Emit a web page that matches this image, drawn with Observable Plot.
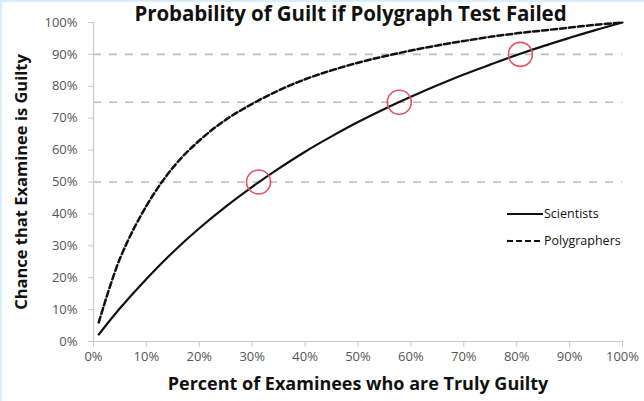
<!DOCTYPE html>
<html>
<head>
<meta charset="utf-8">
<script src="https://cdn.jsdelivr.net/npm/d3@7"></script>
<script src="https://cdn.jsdelivr.net/npm/@observablehq/plot@0.6"></script>
<style>
  html, body { margin: 0; padding: 0; background: #fff; }
  #wrap { position: relative; width: 644px; height: 401px; overflow: hidden; font-family: "Open Sans", Lato, sans-serif; }
  #wrap::before { content: ""; position: absolute; left: 0; top: 0; width: 644px; height: 2px; background: #d8eefa; z-index: 3; }
  #wrap::after { content: ""; position: absolute; left: 0; top: 0; width: 2px; height: 401px; background: #d8eefa; z-index: 3; }
  #title { position: absolute; left: 0; top: -1px; width: 701px; text-align: center; font-weight: bold; font-size: 20.5px; color: #111; z-index: 2; letter-spacing: -0.1px; }
  #legend { position: absolute; left: 506px; top: 205px; font-size: 12.5px; color: #111; z-index: 2; }
  #legend div { height: 27px; display: flex; align-items: flex-start; }
  #legend svg { margin-top: 6px; margin-right: 0px; }
  #chart svg text { font-family: "Open Sans", Lato, sans-serif; }
</style>
</head>
<body>
<div id="wrap">
  <div id="title">Probability of Guilt if Polygraph Test Failed</div>
  <div id="legend">
    <div><svg width="38" height="6"><line x1="1" y1="3" x2="37" y2="3" stroke="#111" stroke-width="2.2"/></svg><span>Scientists</span></div>
    <div><svg width="38" height="6"><line x1="1" y1="3" x2="37" y2="3" stroke="#111" stroke-width="2.2" stroke-dasharray="6,3"/></svg><span>Polygraphers</span></div>
  </div>
  <div id="chart"></div>
</div>
<script>
// Percent of examinees who are truly guilty (x), chance examinee is guilty (y)
const guiltyPct = [1, 5, 10, 15, 20, 25, 30, 35, 40, 45, 50, 55, 60, 65, 70, 75, 80, 85, 90, 95, 100];
const scientists = [2.2, 10.4, 19.6, 28, 35.5, 42.3, 48.5, 54.2, 59.5, 64.3, 68.8, 72.9, 76.7, 80.3, 83.7, 86.8, 89.8, 92.6, 95.2, 97.7, 100];
const polygraphers = [6, 26, 42.5, 54.5, 63, 69.5, 74.5, 78.7, 82.2, 85, 87.4, 89.4, 91.2, 92.8, 94.2, 95.5, 96.6, 97.5, 98.4, 99.3, 100];
const referenceLevels = [50, 75, 90];
const highlightX = [31.2, 57.8, 80.7];
const highlightY = [50, 75, 90];
const tickValues = [0, 10, 20, 30, 40, 50, 60, 70, 80, 90, 100];

const sciData = guiltyPct.map((x, i) => ({x, y: scientists[i]}));
const polyData = guiltyPct.map((x, i) => ({x, y: polygraphers[i]}));
const circles = highlightX.map((x, i) => ({x, y: highlightY[i]}));

const axisColor = "#c5ccd4";
const labelColor = "#555";

const chart = Plot.plot({
  width: 644,
  height: 401,
  marginLeft: 93,
  marginRight: 22,
  marginTop: 22,
  marginBottom: 60,
  style: {background: "transparent", fontSize: "13px", color: labelColor},
  x: {domain: [0, 100]},
  y: {domain: [0, 100]},
  marks: [
    Plot.ruleY(referenceLevels, {stroke: "#b8bec6", strokeWidth: 1.6, strokeDasharray: "8,8"}),
    Plot.ruleX([0], {stroke: axisColor, strokeWidth: 1.2}),
    Plot.ruleY([0], {stroke: axisColor, strokeWidth: 1.2}),
    Plot.axisY({ticks: tickValues, tickFormat: d => d + "%", tickSize: 5, tickPadding: 11, stroke: axisColor, fill: labelColor, fontSize: 13, label: null}),
    Plot.axisX({ticks: tickValues, tickFormat: d => d + "%", tickSize: 6, tickPadding: 4, stroke: axisColor, fill: labelColor, fontSize: 13, label: null}),
    Plot.axisY({ticks: [], label: "Chance that Examinee is Guilty", labelAnchor: "center", labelArrow: "none", labelOffset: 78, fill: "#111", fontSize: 16.5, fontWeight: "bold"}),
    Plot.axisX({ticks: [], label: "Percent of Examinees who are Truly Guilty", labelAnchor: "center", labelArrow: "none", labelOffset: 48, fill: "#111", fontSize: 18, fontWeight: "bold"}),
    Plot.line(polyData, {x: "x", y: "y", stroke: "#111", strokeWidth: 2.5, strokeDasharray: "6,3", curve: "catmull-rom"}),
    Plot.line(sciData, {x: "x", y: "y", stroke: "#111", strokeWidth: 2.2, curve: "catmull-rom"}),
    Plot.dot(circles, {x: "x", y: "y", r: 12, stroke: "#e05468", strokeWidth: 1.6, fill: "none"})
  ]
});
document.getElementById("chart").appendChild(chart);
</script>
</body>
</html>
